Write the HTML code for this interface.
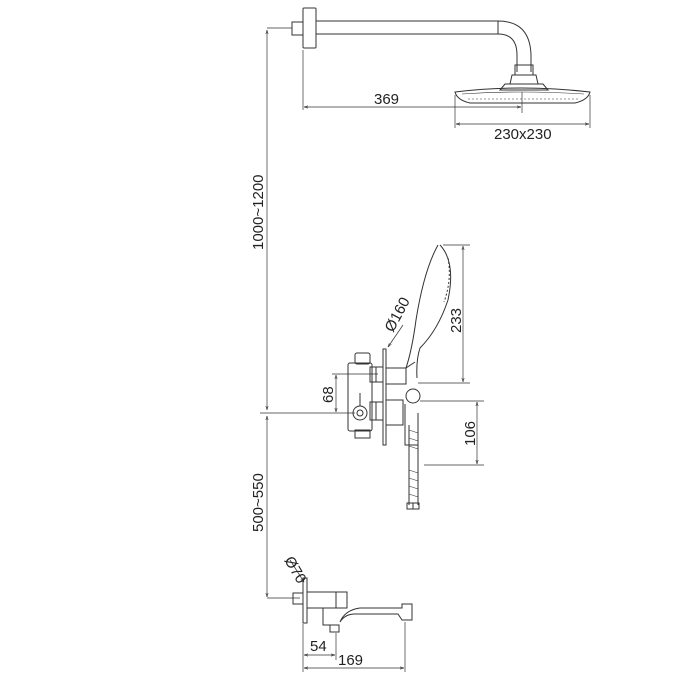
<!DOCTYPE html>
<html><head><style>body{margin:0;background:#fff}svg{display:block}text{font-family:"Liberation Sans",sans-serif;fill:#222}</style></head>
<body>
<svg width="700" height="700" viewBox="0 0 700 700" xmlns="http://www.w3.org/2000/svg">
<defs><marker id="a" viewBox="0 0 10 10" refX="10" refY="5" markerWidth="6" markerHeight="6" orient="auto-start-reverse"><path d="M0,2 L10,5 L0,8" fill="none" stroke="#333" stroke-width="1.2"/></marker></defs>
<g fill="none" stroke="#333" stroke-width="1">
<rect x="292" y="22" width="11" height="13"/>
<rect x="303" y="8" width="13" height="40" rx="1"/>
<path d="M316 21 H498 Q530 21 531 55 V72 M316 34 H498 Q517 34 517 55 V72"/>
<line x1="498" y1="21" x2="498" y2="34"/>
<rect x="515" y="65" width="18" height="10"/>
<path d="M512 75 H536 L538 84 H510 Z"/>
<path d="M505 84 H543 L548 90 H500 Z"/>
<path d="M455 92 Q520 84 590 92 Q588 100 575 103 H470 Q457 100 455 92 Z"/>
<path d="M462 94 Q520 90 584 94" stroke-width="0.6"/>
<path d="M468 99 H580" stroke-dasharray="2 2" stroke-width="0.6"/>
<g stroke-width="0.7">
<line x1="267" y1="28" x2="292" y2="28"/>
<path d="M267 30 L267 410" marker-start="url(#a)" marker-end="url(#a)"/>
<path d="M267 416 L267 597" marker-start="url(#a)" marker-end="url(#a)"/>
<line x1="260" y1="413" x2="355" y2="413"/>
<line x1="267" y1="598" x2="300" y2="598"/>
<line x1="303" y1="50" x2="303" y2="110"/>
<line x1="522" y1="92" x2="522" y2="113"/>
<path d="M304 107 L521 107" marker-start="url(#a)" marker-end="url(#a)"/>
<line x1="455" y1="95" x2="455" y2="128"/>
<line x1="590" y1="95" x2="590" y2="128"/>
<path d="M456 124 L589 124" marker-start="url(#a)" marker-end="url(#a)"/>
</g>
<rect x="355" y="353" width="15" height="11" rx="2"/>
<rect x="348" y="363" width="24" height="68" rx="2"/>
<rect x="355" y="430" width="15" height="8"/>
<circle cx="360" cy="413" r="7"/>
<circle cx="360" cy="413" r="3"/>
<line x1="360" y1="393" x2="360" y2="406"/>
<rect x="370" y="367" width="6" height="15"/><rect x="376" y="367" width="7" height="15"/>
<rect x="370" y="402" width="6" height="18"/><rect x="376" y="402" width="7" height="18"/>
<rect x="383" y="349" width="3" height="96"/>
<rect x="386" y="368" width="20" height="16"/>
<path d="M406 384 L406 368 L415 362"/>
<rect x="386" y="400" width="17" height="25"/>
<circle cx="413" cy="396" r="7"/>
<path d="M405 404 V445 H418 V413"/>
<path d="M438 245 Q424 270 416 320 Q412 350 406 368 M440 245 Q456 262 448 300 Q438 330 420 348 Q416 360 417 378"/>
<path d="M448 258 Q452 280 444 302" stroke-dasharray="2 2"/>
<path d="M409 425 V505 M418 425 V505" />
<path d="M409 430 L418 433 M409 438 L418 441 M409 446 L418 449 M409 470 L418 473 M409 478 L418 481 M409 486 L418 489 M409 494 L418 497" stroke-width="0.6"/>
<rect x="407" y="503" width="6" height="6"/><rect x="413" y="503" width="6" height="6"/>
<g stroke-width="0.7">
<line x1="443" y1="245" x2="470" y2="245"/>
<line x1="418" y1="383" x2="470" y2="383"/>
<path d="M463 246 L463 382" marker-start="url(#a)" marker-end="url(#a)"/>
<line x1="420" y1="401" x2="484" y2="401"/>
<line x1="424" y1="465" x2="484" y2="465"/>
<path d="M477 402 L477 464" marker-start="url(#a)" marker-end="url(#a)"/>
<line x1="332" y1="374" x2="378" y2="374"/>
<path d="M336 375 L336 412" marker-start="url(#a)" marker-end="url(#a)"/>
<path d="M403 325 L388 347" marker-end="url(#a)"/>
<path d="M290 560 L304 582" marker-end="url(#a)"/>
</g>
<rect x="293" y="593" width="10" height="11"/>
<rect x="303" y="578" width="4" height="45"/>
<path d="M307 592 H347 V608 H307 M336 592 V608"/>
<path d="M323 608 V625 H339 V632 H330 V625 M323 608 H347 M340 622 Q345 610 360 608 H402 V604 H412 V620 H402 L398 614 H355 Q345 614 340 622"/>
<g stroke-width="0.7">
<line x1="303" y1="624" x2="303" y2="672"/>
<line x1="336" y1="633" x2="336" y2="660"/>
<line x1="405" y1="622" x2="405" y2="672"/>
<path d="M304 655 L335 655" marker-start="url(#a)" marker-end="url(#a)"/>
<path d="M304 668 L404 668" marker-start="url(#a)" marker-end="url(#a)"/>
</g>
</g>
<g font-size="15">
<text x="374" y="104">369</text>
<text x="494" y="139">230x230</text>
<text x="310" y="651">54</text>
<text x="338" y="665">169</text>
<text transform="translate(263,250) rotate(-90)">1000~1200</text>
<text transform="translate(263,532) rotate(-90)">500~550</text>
<text transform="translate(461,333) rotate(-90)">233</text>
<text transform="translate(475,446) rotate(-90)">106</text>
<text transform="translate(333,403) rotate(-90)">68</text>
<text transform="translate(393,333) rotate(-62)">Ø160</text>
<text transform="translate(284,560) rotate(60)">Ø70</text>
</g>
</svg>
</body></html>
